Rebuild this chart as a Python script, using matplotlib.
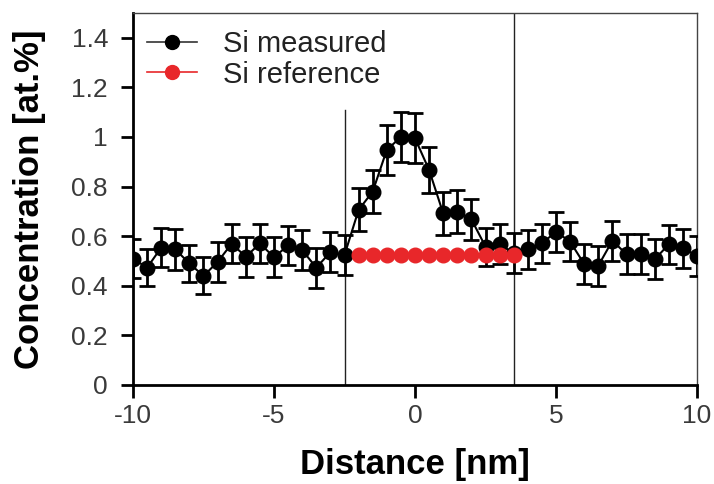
import matplotlib
matplotlib.use("Agg")
import matplotlib.pyplot as plt
from matplotlib.lines import Line2D
import numpy as np

plt.rcParams['font.family'] = ['Liberation Sans', 'DejaVu Sans']

# Data
distance = np.arange(-10, 10.01, 0.5)
si_measured = [0.51, 0.473, 0.554, 0.547, 0.49, 0.44, 0.496, 0.57, 0.517, 0.571,
               0.515, 0.563, 0.544, 0.473, 0.536, 0.524, 0.706, 0.78, 0.948, 1.0,
               0.995, 0.867, 0.692, 0.699, 0.668, 0.558, 0.569, 0.531, 0.547, 0.571,
               0.618, 0.578, 0.488, 0.481, 0.582, 0.527, 0.528, 0.507, 0.567, 0.551,
               0.521]
si_err = [0.08, 0.075, 0.08, 0.082, 0.075, 0.075, 0.079, 0.08, 0.08, 0.08,
          0.08, 0.08, 0.08, 0.08, 0.08, 0.08, 0.087, 0.087, 0.1, 0.1,
          0.1, 0.094, 0.087, 0.087, 0.082, 0.077, 0.08, 0.08, 0.08, 0.08,
          0.08, 0.08, 0.08, 0.08, 0.08, 0.08, 0.08, 0.08, 0.08, 0.08,
          0.08]
ref_distance = np.arange(-2.0, 3.51, 0.5)
si_reference = [0.525] * len(ref_distance)
boundaries = [-2.5, 3.5]
boundary_tops = [1.11, 1.5]

RED = '#e8272a'

fig = plt.figure(figsize=(7.14, 4.84), dpi=100)
ax = fig.add_axes([133/714, 1-385/484, (697-133)/714, (385-13)/484])

ax.errorbar(distance, si_measured, yerr=si_err, color='black', marker='o',
            markersize=10.5, linewidth=1.5, elinewidth=2.0, capsize=6, capthick=2.0,
            zorder=3)
ax.plot(ref_distance, si_reference, color=RED, marker='o', markersize=10.5,
        linewidth=1.5, zorder=4)
for b, t in zip(boundaries, boundary_tops):
    ax.plot([b, b], [0, t], color='#222222', linewidth=1.0, zorder=2)

ax.set_xlim(-10, 10)
ax.set_ylim(0, 1.5)
ax.set_xticks([-10, -5, 0, 5, 10])
ax.set_xticklabels(['-10', '-5', '0', '5', '10'])
ax.set_yticks([0, 0.2, 0.4, 0.6, 0.8, 1.0, 1.2, 1.4])
ax.set_yticklabels(['0', '0.2', '0.4', '0.6', '0.8', '1', '1.2', '1.4'])

ax.tick_params(axis='both', direction='out', length=9, width=2, labelsize=19,
               labelcolor='#3a3a3a', color='black')
ax.tick_params(axis='x', pad=5)
ax.tick_params(axis='y', pad=9)
ax.spines['left'].set_linewidth(2)
ax.spines['bottom'].set_linewidth(2)
ax.spines['top'].set_linewidth(1)
ax.spines['right'].set_linewidth(1)
ax.spines['top'].set_color('#444444')
ax.spines['right'].set_color('#444444')

ax.set_xlabel('Distance [nm]', fontsize=25, fontweight='bold', labelpad=14)
ax.set_ylabel('Concentration [at.%]', fontsize=25, fontweight='bold', labelpad=18)

handles = [Line2D([], [], color='#333333', linewidth=1.2, marker='o',
                  markersize=10, markerfacecolor='black', markeredgecolor='black'),
           Line2D([], [], color=RED, linewidth=1.2, marker='o',
                  markersize=10, markerfacecolor=RED, markeredgecolor=RED)]
leg = ax.legend(handles, ['Si measured', 'Si reference'], loc='upper left',
                bbox_to_anchor=(0.025, 0.955), frameon=False,
                fontsize=21, handlelength=1.7, handletextpad=0.9, labelspacing=0.1,
                borderaxespad=0, borderpad=0)
for txt in leg.get_texts():
    txt.set_color('#222222')

fig.savefig('out.png', dpi=100)
